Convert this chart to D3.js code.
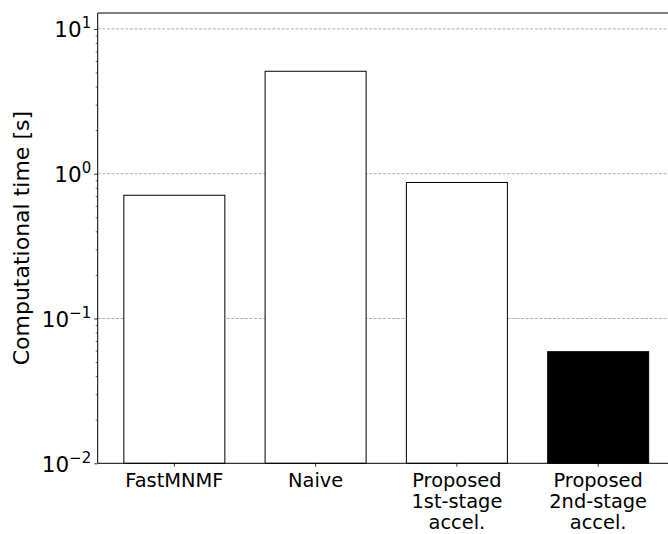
<!DOCTYPE html>
<meta charset="utf-8">
<script src="https://d3js.org/d3.v7.min.js"></script>
<style>
body { margin: 0; background: #fff; }
svg { display: block; }
text { font-family: "DejaVu Sans"; fill: #000; }
</style>
<body>
<div id="chart"></div>
<script>
// data
var methods = [['FastMNMF'], ['Naive'], ['Proposed', '1st-stage', 'accel.'], ['Proposed', '2nd-stage', 'accel.']];
var times = [0.71, 5.1, 0.87, 0.059];
var barFill = ['#fff', '#fff', '#fff', '#000'];
var majorTicks = [0.01, 0.1, 1, 10];
var tickExps = ['\u22122', '\u22121', '0', '1'];

// svg size
var W = 668, H = 534;
var margin = {top: 13, left: 97.7, bottom: 463.3, right: 674.8};

var svg = d3.select('#chart')
    .append('svg')
    .attr('width', W)
    .attr('height', H);

// scales
var x = d3.scaleBand()
    .domain(d3.range(methods.length))
    .range([margin.left, margin.right])
    .paddingInner(0.285)
    .paddingOuter(0.185);

var y = d3.scaleLog()
    .domain([0.01, Math.pow(10, 1.11)])
    .range([margin.bottom, margin.top]);

// grid lines (below bars)
svg.append('g')
    .selectAll('line')
    .data(majorTicks.slice(1))
    .enter()
    .append('line')
    .attr('x1', margin.left)
    .attr('x2', W)
    .attr('y1', function(d) { return y(d); })
    .attr('y2', function(d) { return y(d); })
    .attr('stroke', '#999')
    .attr('stroke-width', 0.8)
    .attr('stroke-dasharray', '3,1.6');

// bars
svg.append('g')
    .selectAll('rect')
    .data(times)
    .enter()
    .append('rect')
    .attr('x', function(d, i) { return x(i); })
    .attr('width', x.bandwidth())
    .attr('y', function(d) { return y(d); })
    .attr('height', function(d) { return margin.bottom - y(d); })
    .attr('fill', function(d, i) { return barFill[i]; })
    .attr('stroke', '#000')
    .attr('stroke-width', 1);

// minor ticks on the log axis
var minorTicks = [];
[0.01, 0.1, 1, 10].forEach(function(dec) {
    for (var k = 2; k <= 9; k++) {
        var v = dec * k;
        if (v <= y.domain()[1]) minorTicks.push(v);
    }
});

svg.append('g')
    .attr('transform', 'translate(' + margin.left + ',0)')
    .call(d3.axisLeft(y).tickValues(minorTicks).tickSize(2).tickFormat(''))
    .call(function(g) { g.select('.domain').remove(); })
    .selectAll('line').attr('stroke-width', 0.6);

// major y ticks with superscript labels
var yAxis = svg.append('g')
    .attr('transform', 'translate(' + margin.left + ',0)')
    .call(d3.axisLeft(y).tickValues(majorTicks).tickSize(3.5).tickPadding(3).tickFormat(''))
    .call(function(g) { g.select('.domain').remove(); });

yAxis.selectAll('line').attr('stroke-width', 0.8);

yAxis.selectAll('.tick text')
    .attr('dy', '0.36em')
    .style('font-size', '21.5px')
    .each(function(d) {
        var t = d3.select(this);
        t.append('tspan').text('10');
        t.append('tspan')
            .attr('dy', -9)
            .style('font-size', '15px')
            .text(tickExps[majorTicks.indexOf(d)]);
    });

// x axis
var xAxis = svg.append('g')
    .attr('transform', 'translate(0,' + margin.bottom + ')')
    .call(d3.axisBottom(x).tickSize(3.5).tickPadding(3).tickFormat(''))
    .call(function(g) { g.select('.domain').remove(); });

xAxis.selectAll('line').attr('stroke-width', 0.8);

xAxis.selectAll('.tick text')
    .style('font-size', '19.4px')
    .attr('dy', null)
    .attr('y', 0)
    .each(function(d) {
        var t = d3.select(this);
        methods[d].forEach(function(line, j) {
            t.append('tspan')
                .attr('x', 0)
                .attr('y', 23.8 + j * 21)
                .text(line);
        });
    });

// spines
svg.append('line')
    .attr('x1', margin.left).attr('x2', margin.left)
    .attr('y1', margin.top).attr('y2', margin.bottom)
    .attr('stroke', '#000').attr('stroke-width', 1);
svg.append('line')
    .attr('x1', margin.left).attr('x2', W)
    .attr('y1', margin.bottom).attr('y2', margin.bottom)
    .attr('stroke', '#000').attr('stroke-width', 1);
svg.append('line')
    .attr('x1', margin.left).attr('x2', W)
    .attr('y1', margin.top).attr('y2', margin.top)
    .attr('stroke', '#000').attr('stroke-width', 1);

// y label
svg.append('text')
    .text('Computational time [s]')
    .attr('transform', 'rotate(-90)')
    .attr('text-anchor', 'middle')
    .attr('x', -(margin.top + margin.bottom) / 2)
    .attr('y', 29)
    .style('font-size', '22px');
</script>
</body>
